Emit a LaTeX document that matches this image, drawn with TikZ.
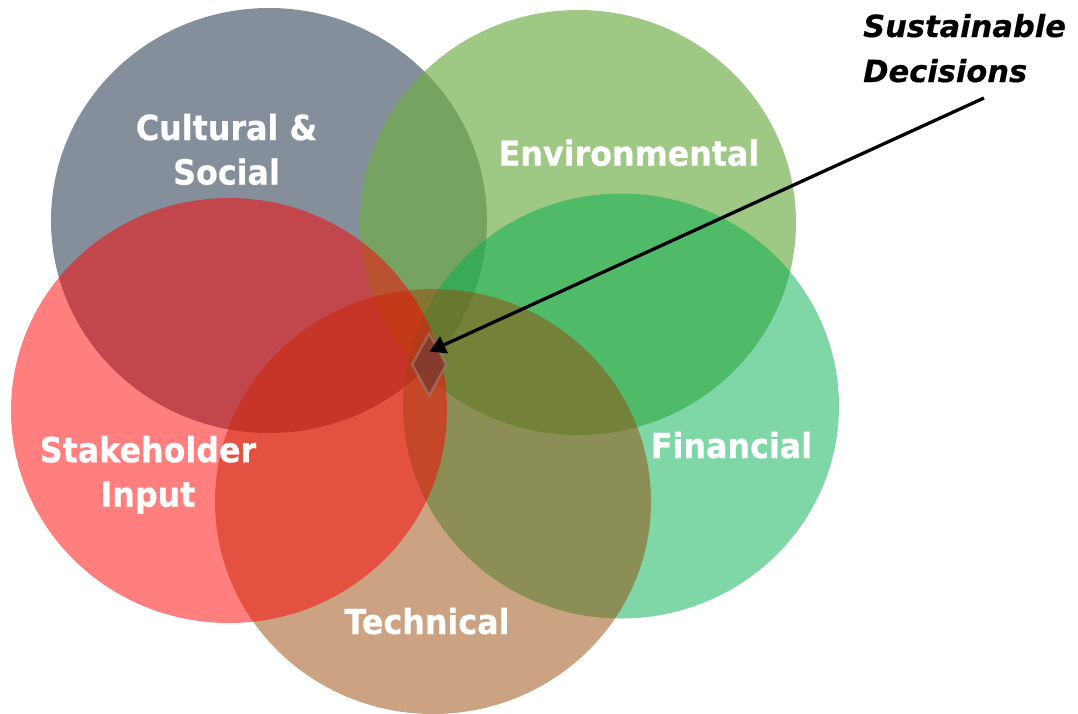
\documentclass[tikz,border=0pt]{standalone}
\usepackage{fontspec}
\usetikzlibrary{arrows.meta,shapes.geometric}
\newfontfamily\lblfont{DejaVu Sans}[FakeStretch=0.92, BoldFeatures={FakeBold=0.6}]
\newfontfamily\notefont{DejaVu Sans}[BoldItalicFeatures={FakeBold=0.5}]
\definecolor{slate}{HTML}{858F9B}
\definecolor{leaf}{HTML}{70AD47}
\definecolor{money}{HTML}{00B050}
\definecolor{rust}{HTML}{984807}
\definecolor{core}{HTML}{7A3A30}
\definecolor{coreedge}{HTML}{A08070}
\tikzset{
  blob/.style={draw=none},
  lbl/.style={text=white, align=center, inner sep=0pt, anchor=base,
    font=\lblfont\bfseries\fontsize{34.5}{44.5}\selectfont},
  note/.style={text=black, align=left, inner sep=0pt, anchor=base west,
    font=\notefont\bfseries\itshape\fontsize{30.5}{45}\selectfont},
  pointer/.style={line width=3.3pt, -{Triangle[length=16pt,width=18pt]}},
  coreshape/.style={diamond, minimum width=35pt, minimum height=63pt,
    inner sep=0pt, fill=core, fill opacity=0.8, draw=coreedge,
    draw opacity=0.6, line width=2.5pt}
}
\begin{document}
\begin{tikzpicture}[x=1pt,y=-1pt]
\useasboundingbox (0,0) rectangle (1078,713);
% the five overlapping areas, bottom to top
\fill[blob, slate] (269,220.5) ellipse [x radius=218, y radius=212.5];
\fill[blob, leaf, fill opacity=0.67] (578,222.5) ellipse [x radius=218, y radius=212.5];
\fill[blob, money, fill opacity=0.5] (621,406) ellipse [x radius=218, y radius=212.5];
\fill[blob, rust, fill opacity=0.5] (433,501.5) ellipse [x radius=218, y radius=212.5];
\fill[blob, red, fill opacity=0.5] (229,410.5) ellipse [x radius=218, y radius=212.5];
% common intersection
\node[coreshape] (core) at (429.2,364.5) {};
% area labels (multi-line labels sit on the baseline of their last line)
\node[lbl] (cult) at (226.5,184.5) {Cultural \&\\Social};
\node[lbl] (env) at (629,165.7) {Environmental};
\node[lbl] (stake) at (148,506.7) {Stakeholder\\Input};
\node[lbl] (fin) at (731.5,458) {Financial};
\node[lbl] (tech) at (427,634) {Technical};
% callout
\node[note] (sust) at (863,82) {Sustainable\\Decisions};
\coordinate (tail) at (984,98);
\coordinate (tip) at (429.5,351.5);
\draw[pointer] (tail) -- (tip);
\end{tikzpicture}
\end{document}
